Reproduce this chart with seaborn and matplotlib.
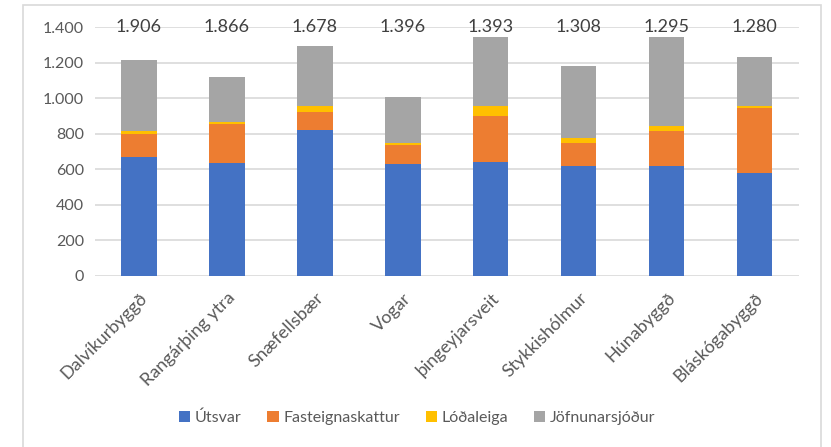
"""Stacked bar chart of municipal revenue per inhabitant."""

import matplotlib
matplotlib.use('Agg')
import matplotlib.pyplot as plt
import matplotlib.ticker as mticker
from matplotlib.patches import Rectangle
import numpy as np
import seaborn as sns

# Data
sveitarfelog = ["Dalvíkurbyggð", "Rangárþing ytra", "Snæfellsbær", "Vogar",
                "þingeyjarsveit", "Stykkishólmur", "Húnabyggð", "Bláskógabyggð"]
utsvar = [672, 638, 822, 632, 644, 621, 621, 582]
fasteignaskattur = [126, 216, 103, 106, 259, 130, 194, 366]
lodaleiga = [17, 11, 34, 11, 56, 28, 28, 11]
jofnunarsjodur = [401, 254, 336, 259, 389, 405, 501, 274]
heild = [1906, 1866, 1678, 1396, 1393, 1308, 1295, 1280]

series = [
    ("Útsvar", utsvar, "#4472C4"),
    ("Fasteignaskattur", fasteignaskattur, "#ED7D31"),
    ("Lóðaleiga", lodaleiga, "#FFC000"),
    ("Jöfnunarsjóður", jofnunarsjodur, "#A5A5A5"),
]

sns.set_theme(style="white")
plt.rcParams['font.family'] = ['Lato', 'DejaVu Sans']

fig = plt.figure(figsize=(8.31, 4.47), dpi=100)
ax = fig.add_axes([0.1143, 0.3826, 0.847, 0.5563])

bottom = np.zeros(len(sveitarfelog))
for name, vals, color in series:
    sns.barplot(x=sveitarfelog, y=vals, bottom=bottom, color=color, width=0.4,
                saturation=1, label=name, ax=ax, edgecolor="none", zorder=3)
    bottom += np.array(vals)

# totals written along the top gridline
for i, v in enumerate(heild):
    ax.text(i, 1400, f"{v:,}".replace(",", "."), ha="center", va="center",
            fontsize=13, color="#404040", zorder=4)

ax.set_ylim(0, 1400)
ax.set_xlim(-0.5, len(sveitarfelog) - 0.5)
ax.set_yticks(range(0, 1401, 200))
ax.yaxis.set_major_formatter(mticker.FuncFormatter(lambda v, p: f"{int(v):,}".replace(",", ".")))
ax.yaxis.grid(True, color="#D9D9D9", linewidth=1.2, zorder=0)
ax.xaxis.grid(False)
for s in ax.spines.values():
    s.set_visible(False)
ax.tick_params(axis="y", length=0, labelsize=11.5, labelcolor="#595959", pad=8)
ax.tick_params(axis="x", length=0, labelsize=13, labelcolor="#595959", pad=10)
plt.setp(ax.get_xticklabels(), rotation=45, ha="right", rotation_mode="anchor")
ax.set_xlabel("")
ax.set_ylabel("")

ax.legend(loc="center", bbox_to_anchor=(0.502, 0.065), bbox_transform=fig.transFigure,
          ncol=4, frameon=False, fontsize=11.5, handlelength=0.7, handleheight=0.7,
          handletextpad=0.3, columnspacing=1.6, labelcolor="#595959")

fig.patches.append(Rectangle((0.0277, -0.02), 0.960, 1.0088, transform=fig.transFigure,
                             fill=False, edgecolor="#D9D9D9", linewidth=1.2))

plt.savefig("out.png", dpi=100)
plt.close()
